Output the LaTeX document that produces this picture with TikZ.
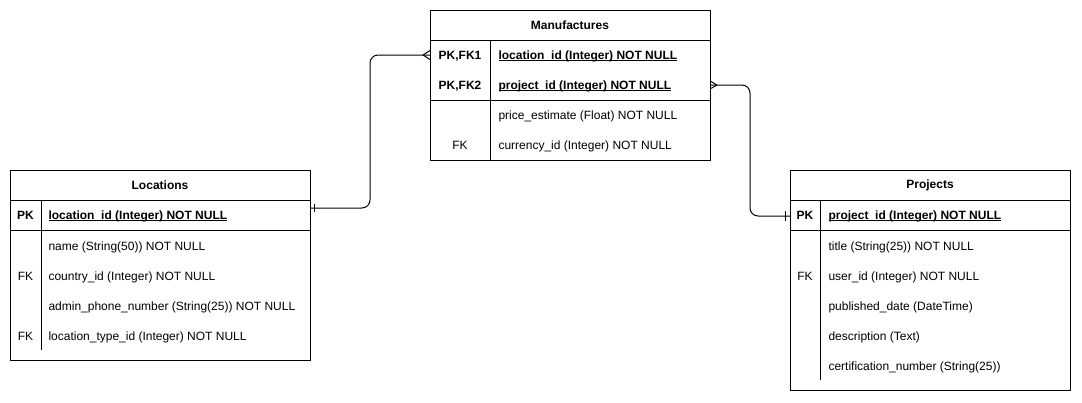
\documentclass[tikz,border=0pt]{standalone}
\usepackage{fontspec}
\setmainfont{Liberation Sans}
\newcommand\ulin[1]{\setbox0\hbox{#1}\rlap{\rule[-1.8pt]{\wd0}{0.8pt}}\box0}
\begin{document}
\begin{tikzpicture}[x=1pt,y=-1pt,line width=1pt,
  tbl/.style={draw, inner sep=0pt, anchor=north west, line width=1pt},
  hd/.style={font=\bfseries\fontsize{12}{14}\selectfont, inner sep=0pt},
  fld/.style={font=\fontsize{12}{14}\selectfont, inner sep=0pt, anchor=base west},
  fldb/.style={font=\bfseries\fontsize{12}{14}\selectfont, inner sep=0pt, anchor=base west},
  key/.style={font=\fontsize{12}{14}\selectfont, inner sep=0pt, anchor=base},
  keyb/.style={font=\bfseries\fontsize{12}{14}\selectfont, inner sep=0pt, anchor=base},
  rel/.style={line width=1pt, rounded corners=8pt}]
\useasboundingbox (0,0) rectangle (1082,402);

% ---------------- Manufactures
\node[tbl, minimum width=280pt, minimum height=150pt] (man) at (430,10) {};
\draw (430,40.5) -- (710,40.5);
\draw (430,100) -- (710,100);
\draw (490.5,40.5) -- (490.5,160);
\node[hd] (manT) at (570,25) {Manufactures};
\node[keyb] (m1k) at (460,59.3) {PK,FK1};
\node[fldb] (m1f) at (498,59.3) {\ulin{location\_id (Integer) NOT NULL}};
\node[keyb] (m2k) at (460,89.3) {PK,FK2};
\node[fldb] (m2f) at (498,89.3) {\ulin{project\_id (Integer) NOT NULL}};
\node[fld] (m3f) at (498,119.3) {price\_estimate (Float) NOT NULL};
\node[key] (m4k) at (460,149.3) {FK};
\node[fld] (m4f) at (498,149.3) {currency\_id (Integer) NOT NULL};

% ---------------- Locations
\node[tbl, minimum width=300pt, minimum height=190pt] (loc) at (10,170) {};
\draw (10,200.5) -- (310,200.5);
\draw (10,230) -- (310,230);
\draw (41,200.5) -- (41,350);
\node[hd] (locT) at (160,185) {Locations};
\node[keyb] (l1k) at (25.5,219.3) {PK};
\node[fldb] (l1f) at (48,219.3) {\ulin{location\_id (Integer) NOT NULL}};
\node[fld] (l2f) at (48,250.3) {name (String(50)) NOT NULL};
\node[key] (l3k) at (25.5,280.3) {FK};
\node[fld] (l3f) at (48,280.3) {country\_id (Integer) NOT NULL};
\node[fld] (l4f) at (48,310.3) {admin\_phone\_number (String(25)) NOT NULL};
\node[key] (l5k) at (25.5,340.3) {FK};
\node[fld] (l5f) at (48,340.3) {location\_type\_id (Integer) NOT NULL};

% ---------------- Projects
\node[tbl, minimum width=280pt, minimum height=220pt] (proj) at (790,170) {};
\draw (790,200.5) -- (1070,200.5);
\draw (790,230) -- (1070,230);
\draw (820.5,200.5) -- (820.5,380);
\node[hd] (projT) at (930,185) {Projects};
\node[keyb] (p1k) at (805,219.3) {PK};
\node[fldb] (p1f) at (828,219.3) {\ulin{project\_id (Integer) NOT NULL}};
\node[fld] (p2f) at (828,250.3) {title (String(25)) NOT NULL};
\node[key] (p3k) at (805,280.3) {FK};
\node[fld] (p3f) at (828,280.3) {user\_id (Integer) NOT NULL};
\node[fld] (p4f) at (828,310.3) {published\_date (DateTime)};
\node[fld] (p5f) at (828,340.3) {description (Text)};
\node[fld] (p6f) at (828,370.3) {certification\_number (String(25))};

% ---------------- Relations
\coordinate (locA) at (310,208);
\coordinate (manA) at (430,55);
\coordinate (manB) at (710,85);
\coordinate (projB) at (790,216);
\draw[rel] (locA) -- (370,208) -- (370,55) -- (manA);
\draw[rel] (manB) -- (750,85) -- (750,216) -- (projB);
% one marks
\draw (314.5,204) -- (314.5,212);
\draw (785.5,211) -- (785.5,221);
% many marks
\draw (423,55) -- (430,50.5) (423,55) -- (430,59.5);
\draw (717,85) -- (710,81) (717,85) -- (710,89);
\end{tikzpicture}
\end{document}
